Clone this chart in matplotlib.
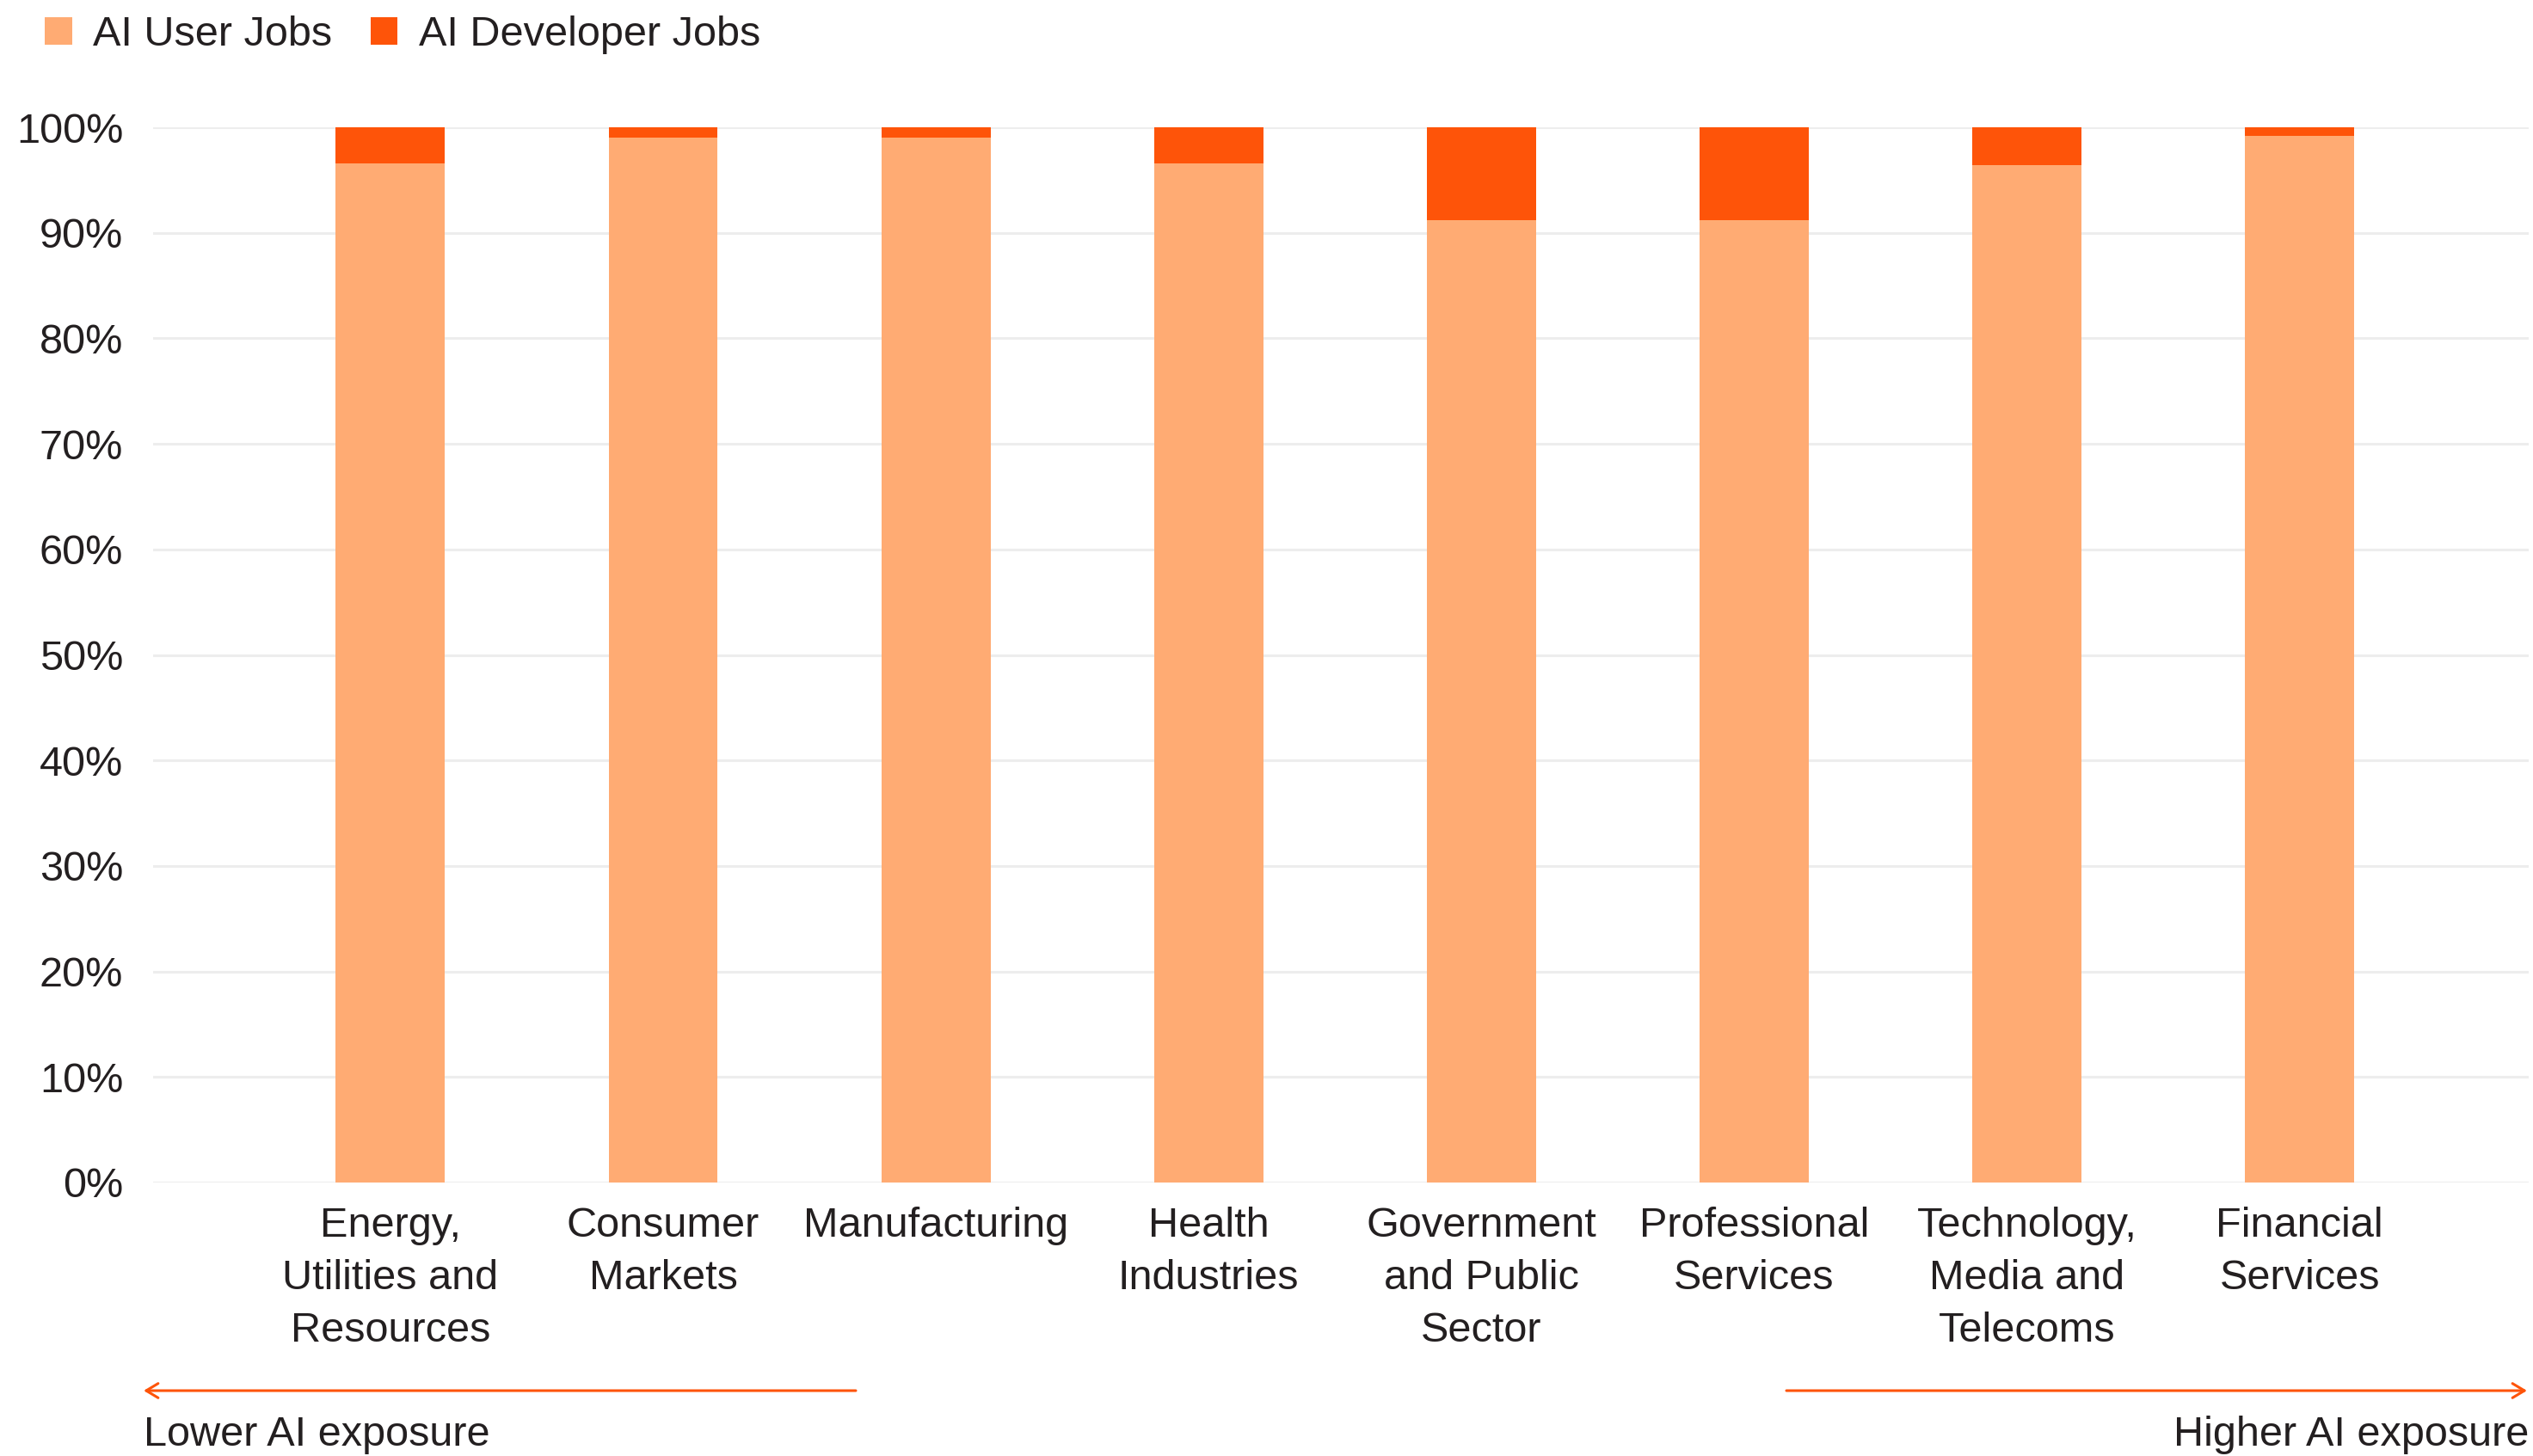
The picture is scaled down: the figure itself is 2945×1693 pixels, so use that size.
import matplotlib
matplotlib.use("Agg")
import matplotlib.pyplot as plt
from matplotlib.patches import FancyArrowPatch

plt.rcParams['font.family'] = ['Liberation Sans', 'DejaVu Sans']

categories = ["Energy,\nUtilities and\nResources", "Consumer\nMarkets", "Manufacturing",
              "Health\nIndustries", "Government\nand Public\nSector", "Professional\nServices",
              "Technology,\nMedia and\nTelecoms", "Financial\nServices"]
user_jobs = [96.6, 99.0, 99.0, 96.6, 91.2, 91.2, 96.4, 99.2]
developer_jobs = [3.4, 1.0, 1.0, 3.4, 8.8, 8.8, 3.6, 0.8]
y_ticks = [0, 10, 20, 30, 40, 50, 60, 70, 80, 90, 100]
y_tick_labels = [f"{v}%" for v in y_ticks]
series_names = ["AI User Jobs", "AI Developer Jobs"]

USER_C = "#FFAB73"
DEV_C = "#FE5409"
TXT = "#231F20"
GRID = "#EDEDED"

W, H = 2945, 1693
fig = plt.figure(figsize=(W / 100, H / 100), dpi=100)
ax_l, ax_r, ax_t, ax_b = 178, 2940, 148, 1375
ax = fig.add_axes([ax_l / W, 1 - ax_b / H, (ax_r - ax_l) / W, (ax_b - ax_t) / H])

x = list(range(len(categories)))
b1 = ax.bar(x, user_jobs, width=0.4, color=USER_C, zorder=2, label=series_names[0])
b2 = ax.bar(x, developer_jobs, width=0.4, bottom=user_jobs, color=DEV_C, zorder=2,
            label=series_names[1])

ax.set_xlim(-0.87, 7.84)
ax.set_ylim(0, 100)
ax.set_yticks(y_ticks)
ax.set_yticklabels(y_tick_labels)
ax.set_xticks(x)
ax.set_xticklabels(categories, linespacing=1.46)
for s in ax.spines.values():
    s.set_visible(False)
ax.yaxis.grid(True, color=GRID, linewidth=2.2, zorder=0)
ax.set_axisbelow(True)
ax.tick_params(axis='y', length=0, pad=25, labelsize=35, labelcolor=TXT)
ax.tick_params(axis='x', length=0, pad=20, labelsize=35, labelcolor=TXT)

leg = fig.legend(handles=[b1, b2], labels=series_names, loc='upper left',
                 bbox_to_anchor=(52 / W, 1 - 18 / H), ncol=2, frameon=False,
                 fontsize=35, handlelength=0.65, handleheight=0.62,
                 handletextpad=0.5, columnspacing=0.92, borderaxespad=0, borderpad=0)
for t in leg.get_texts():
    t.set_color(TXT)

arrow_y = 1 - 1617 / H
for (xs, xe) in [(995, 167), (2077, 2938)]:
    arr = FancyArrowPatch((xs / W, arrow_y), (xe / W, arrow_y), transform=fig.transFigure,
                          arrowstyle='->,head_length=10,head_width=6', color=DEV_C,
                          linewidth=2.2, mutation_scale=1, shrinkA=0, shrinkB=0)
    fig.add_artist(arr)

fig.text(167 / W, 1 - 1681 / H, "Lower AI exposure", ha='left', va='baseline',
         fontsize=35, color=TXT)
fig.text(2940 / W, 1 - 1681 / H, "Higher AI exposure", ha='right', va='baseline',
         fontsize=35, color=TXT)

fig.savefig("out.png", dpi=100, facecolor='white')
